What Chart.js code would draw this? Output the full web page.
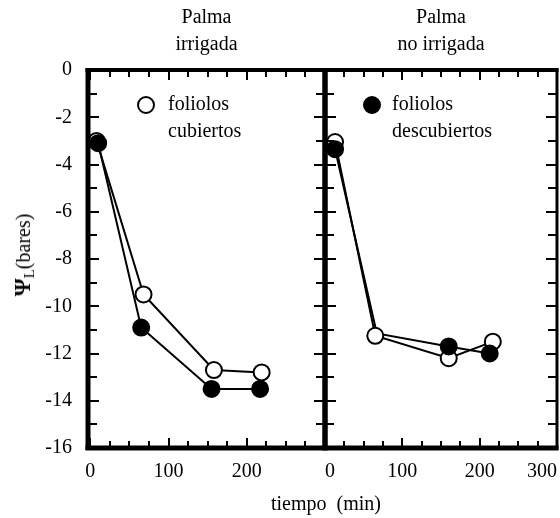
<!DOCTYPE html>
<html>
<head>
<meta charset="utf-8">
<script src="https://cdn.jsdelivr.net/npm/chart.js@4.4.0/dist/chart.umd.min.js"></script>
<style>
  html, body { margin: 0; background: #fff; }
  #wrap { position: relative; width: 560px; height: 518px; overflow: hidden; font-family: "Liberation Serif", "Times New Roman", serif; }
  #wrap canvas { position: absolute; left: 0; top: 0; }
  .lbl { position: absolute; font-size: 20px; white-space: pre; color: #000; line-height: 1; }
  #ytitle { left: 24px; top: 255px; transform: translate(-50%, -50%) rotate(-90deg); }
  #ytitle .psi { font-size: 23px; font-weight: bold; }
  #ytitle sub { font-size: 15px; vertical-align: -4px; }
  #xtitle { left: 326px; top: 503px; transform: translate(-50%, -50%); }
</style>
</head>
<body>
<div id="wrap">
  <canvas id="irrigada" width="560" height="518"></canvas>
  <!-- un poco más ancho: Chart.js reserva margen a la derecha para la etiqueta "300" -->
  <canvas id="noIrrigada" width="567" height="518"></canvas>
  <div class="lbl" id="ytitle"><span class="psi">Ψ</span><sub>L</sub>(bares)</div>
  <div class="lbl" id="xtitle">tiempo  (min)</div>
</div>
<script>
// Potencial hídrico foliar (bares) frente al tiempo (min) tras cubrir los foliolos
const irrCubT   = [8, 68, 158, 219];
const irrCubPsi = [-3.0, -9.5, -12.7, -12.8];
const irrDesT   = [10, 65, 155, 217];
const irrDesPsi = [-3.1, -10.9, -13.5, -13.5];

const secCubT   = [13, 65, 160, 217];
const secCubPsi = [-3.05, -11.25, -12.2, -11.5];
const secDesT   = [13, 67, 160, 213];
const secDesPsi = [-3.35, -11.15, -11.7, -12.0];

// ejes
const xTicks     = [0, 25, 50, 75, 100, 125, 150, 175, 200, 225, 250, 275, 300];
const xLabelsIrr = [0, 100, 200];
const xLabelsSec = [0, 100, 200, 300];
const yTicks     = [0, -1, -2, -3, -4, -5, -6, -7, -8, -9, -10, -11, -12, -13, -14, -15, -16];
const yLabels    = [0, -2, -4, -6, -8, -10, -12, -14, -16];

const tituloIrr = ['Palma', 'irrigada'];
const tituloSec = ['Palma', 'no irrigada'];
const leyendaCub = ['foliolos', 'cubiertos'];
const leyendaDes = ['foliolos', 'descubiertos'];

const FAMILY = '"Liberation Serif", "Times New Roman", serif';
const FONT = { family: FAMILY, size: 20 };

const pts = (t, v) => t.map((x, i) => ({ x, y: v[i] }));

// marco grueso con marcas hacia dentro en los cuatro lados
const frame = {
  id: 'frame',
  afterDatasetsDraw(chart, _args, o) {
    const { ctx, chartArea: a, scales: { x, y } } = chart;
    ctx.save();
    ctx.strokeStyle = '#000';
    ctx.lineWidth = 2;
    ctx.beginPath();
    x.ticks.forEach(t => {
      const px = Math.round(x.getPixelForValue(t.value));
      const len = t.value % 100 === 0 ? 10 : 7;
      ctx.moveTo(px, a.top); ctx.lineTo(px, a.top + len);
      ctx.moveTo(px, a.bottom); ctx.lineTo(px, a.bottom - len);
    });
    y.ticks.forEach(t => {
      const py = Math.round(y.getPixelForValue(t.value));
      const len = t.value % 2 === 0 ? 11 : 9;
      ctx.moveTo(a.left, py); ctx.lineTo(a.left + len, py);
      ctx.moveTo(a.right, py); ctx.lineTo(a.right - len, py);
    });
    ctx.stroke();
    ctx.fillStyle = '#000';
    const l = o.left, r = o.right;
    ctx.fillRect(a.left - l / 2, a.top - 2, a.right - a.left + (l + r) / 2, 4);
    ctx.fillRect(a.left - l / 2, a.bottom - 2.5, a.right - a.left + (l + r) / 2, 5);
    ctx.fillRect(a.left - l / 2, a.top - 2, l, a.bottom - a.top + 4);
    ctx.fillRect(a.right - r / 2, a.top - 2, r, a.bottom - a.top + 4);
    ctx.restore();
  }
};

// leyenda de un solo símbolo dentro del panel
const leyenda = {
  id: 'leyenda',
  afterDraw(chart, _args, o) {
    const { ctx } = chart;
    ctx.save();
    ctx.beginPath();
    ctx.arc(o.x, o.y, 8, 0, Math.PI * 2);
    ctx.fillStyle = o.fill;
    ctx.fill();
    ctx.lineWidth = 2;
    ctx.strokeStyle = '#000';
    ctx.stroke();
    ctx.font = '20px ' + FAMILY;
    ctx.fillStyle = '#000';
    ctx.textBaseline = 'middle';
    o.text.forEach((line, i) => ctx.fillText(line, o.x + o.gap, o.y + i * 27));
    ctx.restore();
  }
};

function datasets(cub, des, hiddenDes) {
  const line = { showLine: true, borderColor: '#000', borderWidth: 2, pointRadius: 0 };
  return [
    { ...line, data: cub, order: 4 },
    { ...line, data: des, order: 3 },
    { data: cub, showLine: false, pointRadius: 8, pointBorderWidth: 2,
      pointBackgroundColor: '#fff', pointBorderColor: '#000', order: 2 },
    // el punto oculto queda bajo el símbolo abierto
    { data: des, showLine: false, pointBorderWidth: 2,
      pointRadius: c => (hiddenDes.includes(c.dataIndex) ? 0 : 8),
      pointBackgroundColor: '#000', pointBorderColor: '#000', order: 1 }
  ];
}

function panel(id, p) {
  return new Chart(document.getElementById(id), {
    type: 'scatter',
    data: { datasets: p.datasets },
    options: {
      responsive: false,
      animation: false,
      events: [],
      devicePixelRatio: 1,
      clip: false,
      layout: { padding: p.padding },
      plugins: {
        legend: { display: false },
        tooltip: { enabled: false },
        title: {
          display: true, text: p.title, color: '#000', fullSize: false,
          font: { ...FONT, weight: 'normal', lineHeight: 1.35 },
          padding: { top: 4, bottom: 12 }
        },
        frame: p.frame,
        leyenda: p.legend
      },
      scales: {
        x: {
          type: 'linear', min: p.xMin, max: 300,
          afterBuildTicks: s => { s.ticks = xTicks.map(v => ({ value: v })); },
          afterFit: s => { s.height = 70; s.paddingLeft = 0; s.paddingRight = 0; },
          grid: { display: false, drawTicks: false },
          border: { display: false },
          ticks: {
            autoSkip: false, maxRotation: 0, color: '#000', font: FONT, padding: 12,
            align: p.align,
            callback: v => (p.xLabels.includes(v) ? String(v) : '')
          }
        },
        y: {
          type: 'linear', min: -16, max: 0, display: p.showY,
          afterBuildTicks: s => { s.ticks = yTicks.map(v => ({ value: v })); },
          afterFit: s => { s.width = p.showY ? 88 : 0; },
          grid: { display: false, drawTicks: false },
          border: { display: false },
          ticks: {
            autoSkip: false, color: '#000', font: FONT, padding: 16,
            callback: v => (yLabels.includes(v) ? String(v) : '')
          }
        }
      }
    },
    plugins: [frame, leyenda]
  });
}

panel('irrigada', {
  title: tituloIrr,
  datasets: datasets(pts(irrCubT, irrCubPsi), pts(irrDesT, irrDesPsi), []),
  xMin: -3, xLabels: xLabelsIrr, align: 'center', showY: true,
  padding: { left: 0, right: 235, top: 0, bottom: 0 },
  frame: { left: 5, right: 5 },
  legend: { x: 146, y: 105, gap: 22, fill: '#fff', text: leyendaCub }
});

panel('noIrrigada', {
  title: tituloSec,
  datasets: datasets(pts(secCubT, secCubPsi), pts(secDesT, secDesPsi), [1]),
  xMin: 0, xLabels: xLabelsSec, align: 'inner', showY: false,
  padding: { left: 325, right: 2, top: 0, bottom: 0 },
  frame: { left: 5, right: 3 },
  legend: { x: 372, y: 105, gap: 20, fill: '#000', text: leyendaDes }
});
</script>
</body>
</html>
